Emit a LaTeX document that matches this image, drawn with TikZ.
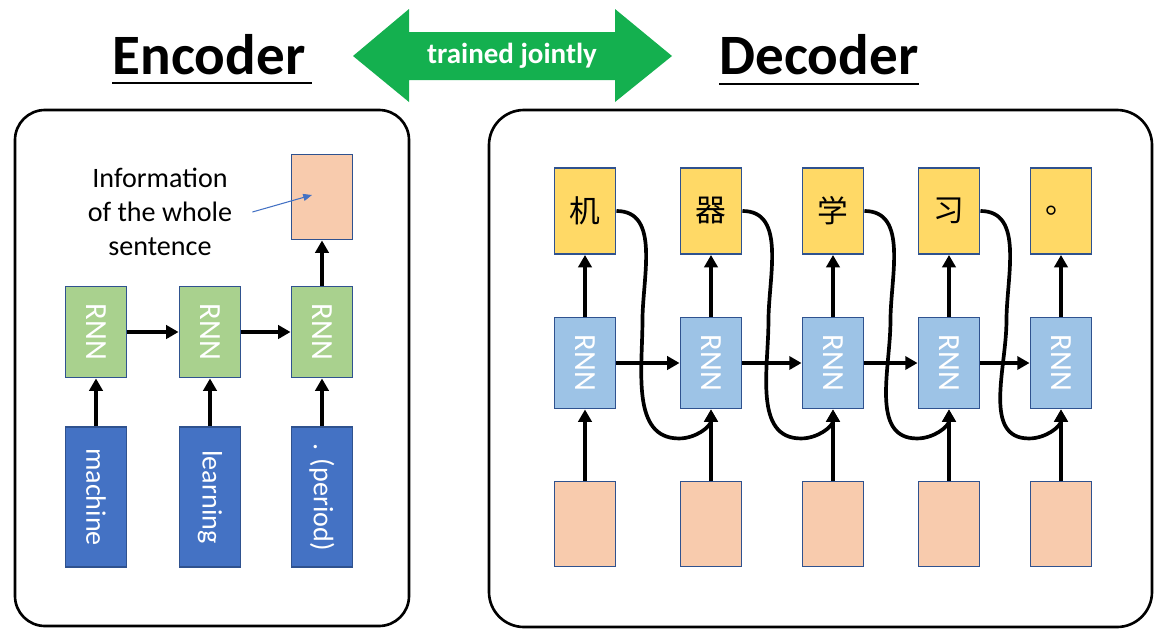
\documentclass[tikz,border=0pt]{standalone}
\usepackage{fontspec}
\setmainfont{Carlito}
\newfontfamily\cjkfont{Noto Sans CJK SC}
\usepackage{graphicx}
\usetikzlibrary{arrows.meta,positioning,calc}
\definecolor{edge}{HTML}{2F528F}
\definecolor{rnngreen}{HTML}{A9D18E}
\definecolor{rnnblue}{HTML}{9DC3E6}
\definecolor{wordblue}{HTML}{4472C4}
\definecolor{peach}{HTML}{F8CBAD}
\definecolor{gold}{HTML}{FFD966}
\definecolor{jointgreen}{HTML}{14B04F}
\tikzset{
  cell/.style={draw=edge, line width=1.1pt, minimum width=1.22cm, inner sep=0pt},
  rnnbox/.style={cell, minimum height=1.82cm, text=white, font=\fontsize{17.5}{21}\selectfont},
  wordbox/.style={cell, fill=wordblue, minimum height=2.8cm, text=white, font=\fontsize{16}{19}\selectfont},
  vecbox/.style={cell, fill=peach, minimum height=1.7cm},
  outbox/.style={cell, fill=gold, minimum height=1.72cm, font=\cjkfont\fontsize{17.5}{20}\selectfont},
  line/.style={-{Triangle[length=7pt,width=7.5pt]}, line width=2.1pt},
  panel/.style={draw, line width=1.5pt},
  title/.style={inner sep=0pt, anchor=base, font=\fontsize{32.5}{38}\selectfont\bfseries}
}

\begin{document}
\begin{tikzpicture}[x=0.02cm, y=-0.02cm]
        \useasboundingbox (0,0) rectangle (1173,643);
        \draw[panel, rounded corners=0.6cm] (15,110) rectangle (409,626);
        \draw[panel, rounded corners=0.7cm] (489,110) rectangle (1152,627);
        % titles and the joint arrow
        \node[title] (enc) at (209,74) {Encoder};
        \node[title] (dec) at (819,74) {Decoder};
        \draw[line width=1.7pt] ($(enc.base west)+(0,9)$) -- ($(enc.base east)+(6,9)$);
        \draw[line width=1.7pt] ($(dec.base west)+(0,10)$) -- ($(dec.base east)+(0,10)$);
        \fill[jointgreen] (353,56) -- (409,9) -- (409,32) -- (615,32) -- (615,9) -- (672,56)
          -- (615,102) -- (615,80) -- (409,80) -- (409,102) -- cycle;
        \node[text=white, font=\fontsize{16.5}{19}\selectfont\bfseries] (joint) at (512,56) {trained jointly};
        % encoder
        \foreach \x/\w [count=\i] in {96/machine, 210/learning, 322/{. (period)}}
        {
          \node[rnnbox, fill=rnngreen] (er\i) at (\x,332) {\rotatebox{-90}{RNN}};
          \node[wordbox] (ew\i) at (\x,497) {\rotatebox{-90}{\w}};
          \draw[line] (ew\i) -- (er\i);
        }
        \draw[line] (er1) -- (er2);
        \draw[line] (er2) -- (er3);
        \node[vecbox] (ctx) at (322,197) {};
        \draw[line] (er3) -- (ctx);
        \node[align=center, font=\fontsize{16}{19.3}\selectfont] (info) at (160,212) {Information\\of the whole\\sentence};
        \draw[-{Triangle[length=5pt,width=4pt]}, wordblue, line width=0.6pt] ($(info.east)+(14,0)$) -- ($(ctx.center)+(-10,-2)$);
        % decoder
        \foreach \x/\c [count=\i] in {585/机, 711/器, 833/学, 949/习, 1061/。}
        {
          \node[outbox] (dy\i) at (\x,211) {\c};
          \node[rnnbox, fill=rnnblue] (dr\i) at (\x,363) {\rotatebox{-90}{RNN}};
          \node[vecbox] (dx\i) at (\x,524) {};
          \draw[line] (dr\i) -- (dy\i);
          \draw[line] (dx\i) -- (dr\i);
        }
        \foreach \i [evaluate=\i as \j using int(\i+1)] in {1,...,4}
        {
          \draw[line] (dr\i) -- (dr\j);
          \draw[line] (dy\i.east) to[out=0,in=90] ++(26,110) to[out=-90,in=180] ($(dr\j.south)+(-32,29)$) to[out=0,in=-90] (dr\j.south);
        }
      \end{tikzpicture}
\end{document}
